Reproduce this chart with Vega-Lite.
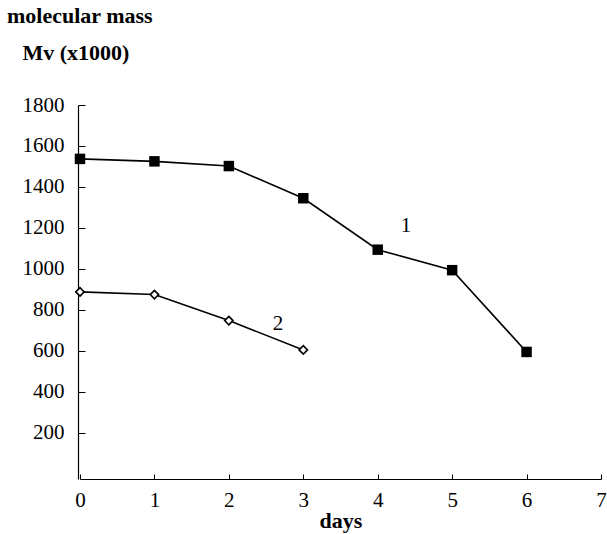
{
  "$schema": "https://vega.github.io/schema/vega-lite/v6.json",
  "width": 521,
  "height": 374,
  "autosize": {"type": "none"},
  "padding": {"left": 80, "top": 105, "right": 6, "bottom": 55},
  "background": "white",
  "config": {
    "font": "Liberation Serif",
    "view": {"stroke": null},
    "axis": {
      "grid": false,
      "domainColor": "black",
      "domainWidth": 1.2,
      "tickColor": "black",
      "tickWidth": 1,
      "labelColor": "black",
      "labelFontSize": 21,
      "labelFont": "Liberation Serif",
      "titleFont": "Liberation Serif",
      "titleFontSize": 22,
      "titleFontWeight": "bold",
      "titleColor": "black"
    }
  },
  "title": {
    "text": "molecular mass",
    "anchor": "start",
    "frame": "group",
    "font": "Liberation Serif",
    "fontSize": 22,
    "fontWeight": "bold",
    "color": "black",
    "dx": -73,
    "offset": 13
  },
  "datasets": {
    "mass": [
      {"day": 0, "mv": 1537, "series": "1"},
      {"day": 1, "mv": 1525, "series": "1"},
      {"day": 2, "mv": 1502, "series": "1"},
      {"day": 3, "mv": 1345, "series": "1"},
      {"day": 4, "mv": 1094, "series": "1"},
      {"day": 5, "mv": 994, "series": "1"},
      {"day": 6, "mv": 595, "series": "1"},
      {"day": 0, "mv": 888, "series": "2"},
      {"day": 1, "mv": 875, "series": "2"},
      {"day": 2, "mv": 748, "series": "2"},
      {"day": 3, "mv": 605, "series": "2"}
    ],
    "labels": [
      {"label": "1", "day": 4.38, "mv": 1210},
      {"label": "2", "day": 2.66, "mv": 732}
    ]
  },
  "layer": [
    {
      "data": {"name": "mass"},
      "mark": {"type": "line", "color": "black", "strokeWidth": 1.6},
      "encoding": {
        "x": {
          "field": "day", "type": "quantitative",
          "scale": {"domain": [0, 7], "nice": false, "zero": false},
          "axis": {
            "title": "days",
            "values": [0, 1, 2, 3, 4, 5, 6, 7],
            "format": "d",
            "tickSize": -5,
            "labelPadding": 15,
            "labelFlush": false,
            "titleY": 48,
            "titleBaseline": "alphabetic"
          }
        },
        "y": {
          "field": "mv", "type": "quantitative",
          "scale": {"domain": [-25, 1800], "nice": false, "zero": false},
          "axis": {
            "title": "Mv (x1000)",
            "values": [200, 400, 600, 800, 1000, 1200, 1400, 1600, 1800],
            "format": "d",
            "tickSize": -7,
            "offset": 2,
            "labelPadding": 21,
            "labelFlush": false,
            "titleAngle": 0,
            "titleAlign": "left",
            "titleBaseline": "alphabetic",
            "titleX": -56,
            "titleY": -46
          }
        },
        "detail": {"field": "series"}
      }
    },
    {
      "data": {"name": "mass"},
      "transform": [{"filter": "datum.series === '1'"}],
      "mark": {"type": "point", "shape": "square", "filled": true, "color": "black", "size": 110, "opacity": 1},
      "encoding": {
        "x": {"field": "day", "type": "quantitative"},
        "y": {"field": "mv", "type": "quantitative"}
      }
    },
    {
      "data": {"name": "mass"},
      "transform": [{"filter": "datum.series === '2'"}],
      "mark": {"type": "point", "shape": "diamond", "filled": true, "fill": "white", "stroke": "black", "strokeWidth": 1.6, "size": 70, "opacity": 1},
      "encoding": {
        "x": {"field": "day", "type": "quantitative"},
        "y": {"field": "mv", "type": "quantitative"}
      }
    },
    {
      "data": {"name": "labels"},
      "mark": {"type": "text", "font": "Liberation Serif", "fontSize": 21, "color": "black", "baseline": "middle", "align": "center"},
      "encoding": {
        "x": {"field": "day", "type": "quantitative"},
        "y": {"field": "mv", "type": "quantitative"},
        "text": {"field": "label"}
      }
    }
  ]
}
